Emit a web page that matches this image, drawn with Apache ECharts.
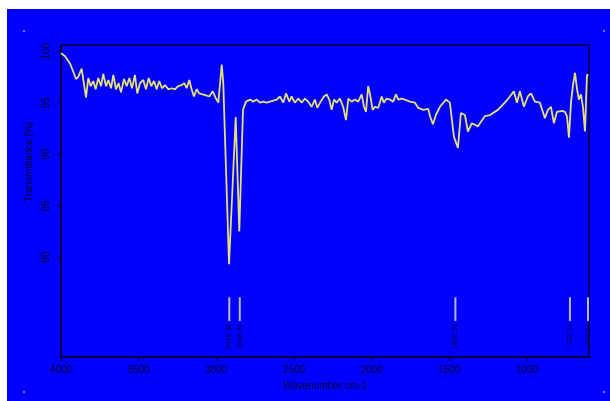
<!DOCTYPE html>
<html>
<head>
<meta charset="utf-8">
<script src="https://cdn.jsdelivr.net/npm/echarts@6/dist/echarts.min.js"></script>
<style>
html,body{margin:0;padding:0;background:#ffffff;width:610px;height:401px;overflow:hidden;}
#chart{position:absolute;left:7px;top:9px;width:603px;height:392px;}
</style>
</head>
<body>
<div id="chart"></div>
<script>
// Wavenumbers (cm-1) and transmittance (%)
const wavenumbers = [4000,3974,3942,3921,3903,3889,3867,3856,3839,3824,3809,3792,3777,3760,3742,3728,3710,3695,3678,3663,3646,3629,3614,3594,3577,3560,3543,3524,3509,3491,3470,3453,3435,3419,3401,3384,3367,3350,3330,3309,3287,3266,3245,3223,3206,3191,3174,3159,3144,3126,3110,3088,3066,3045,3023,3002,2987,2965,2955,2918,2875,2852,2828,2809,2783,
2762,2740,2719,2698,2676,2654,2633,2611,2590,2569,2551,2530,2515,2494,2472,2450,2429,2408,2386,2365,2350,2328,2307,2289,2273,2257,2242,2225,2204,2183,2165,2150,2128,2107,2086,2064,2049,2036,2022,2011,1993,1978,1957,1935,1921,1903,1882,1861,1843,1828,1807,1785,1753,1721,1700,1667,1635,1624,1605,1586,1560,1521,1496,1470,1444,1425,1399,1380,1354,1315,1270,1238,1187,1142,1109,1084,1064,1045,1019,994,974,948,916,884,865,845,826,807,774,755,742,729,716,703,690,677,665,652,639,626,613,604];
const transmittance = [99.8,99.5,98.8,98.0,97.3,97.5,98.3,97.2,95.5,97.4,96.6,97.1,96.3,97.4,96.6,97.8,96.6,97.2,96.4,97.7,96.3,96.9,96.0,97.3,96.6,97.4,96.4,97.7,95.9,96.9,97.2,96.3,97.4,96.6,97.1,96.3,97.1,96.4,96.7,96.3,96.4,96.3,96.6,96.7,96.9,96.4,97.2,96.3,95.6,96.3,95.9,95.8,95.7,95.6,96.1,95.4,95.0,98.7,96.9,79.3,93.6,82.5,94.3,95.1,95.3,
95.1,95.3,95.0,95.1,95.0,95.1,95.2,95.3,95.6,95.0,95.9,95.1,95.6,95.0,95.4,95.0,95.4,95.1,94.6,95.3,94.5,95.1,95.6,95.8,95.3,94.3,95.3,95.0,95.4,94.6,93.3,95.4,95.1,95.3,95.1,95.8,94.6,94.1,96.6,95.9,94.3,94.6,94.5,95.6,95.0,95.4,95.3,95.1,95.8,95.3,95.4,95.3,95.1,95.0,94.5,94.3,94.4,93.7,92.9,93.8,94.6,95.3,95.0,91.7,90.6,94.0,93.8,92.2,93.0,92.7,93.7,93.8,94.3,95.0,95.6,96.1,95.0,96.1,94.6,95.6,95.9,95.1,95.0,93.5,94.3,94.6,93.0,94.1,94.2,94.1,93.7,91.6,95.0,96.7,97.9,96.3,95.3,95.8,94.6,92.2,97.7,97.7];

// Peak annotations
const peakPositions = [2916.38, 2848.94, 1460.29, 722.74, 606.57];
const peakLabels = ['2916.38', '2848.94', '1460.29', '722.74', '606.57'];

// Axis ticks
const xTicks = [4000, 3500, 3000, 2500, 2000, 1500, 1000];
const yTicks = [80, 85, 90, 95, 100];

const chart = echarts.init(document.getElementById('chart'), null, {renderer: 'canvas'});
const textColor = '#000028';
const frameColor = '#000030';

const spectrum = wavenumbers.map((w, i) => [w, transmittance[i]]);
const peaks = peakPositions.map((p, i) => [p, peakLabels[i]]);

chart.setOption({
  backgroundColor: '#0000fe',
  animation: false,
  grid: {left: 54, top: 36, right: 21, bottom: 44, show: true, borderColor: frameColor, borderWidth: 1.5, backgroundColor: 'transparent'},
  xAxis: {
    type: 'value', min: 600, max: 4000, inverse: true,
    name: 'Wavenumber cm-1', nameLocation: 'middle', nameGap: 24,
    nameTextStyle: {color: textColor, fontSize: 10, fontFamily: 'Liberation Sans'},
    axisLine: {show: true, lineStyle: {color: frameColor, width: 1.5}},
    axisTick: {show: true, length: 4, customValues: xTicks, lineStyle: {color: frameColor}},
    axisLabel: {customValues: xTicks, formatter: v => String(v), color: textColor, fontSize: 10, fontFamily: 'Liberation Sans', margin: 8},
    splitLine: {show: false}
  },
  yAxis: {
    type: 'value', min: 70.3, max: 100.6,
    axisLine: {show: true, lineStyle: {color: frameColor, width: 1.5}},
    axisTick: {show: true, length: 4, customValues: yTicks, lineStyle: {color: frameColor}},
    axisLabel: {customValues: yTicks, formatter: v => String(v), color: textColor, fontSize: 10, fontFamily: 'Liberation Sans', rotate: 90, margin: 10},
    splitLine: {show: false}
  },
  graphic: [
    {type: 'text', x: 22, y: 153, rotation: Math.PI / 2,
     style: {text: 'Transmittance [%]', fill: textColor, font: '10px "Liberation Sans"', align: 'center', verticalAlign: 'middle'}},
    {type: 'rect', shape: {x: 16, y: 21, width: 2, height: 2}, style: {fill: '#7a7aff'}},
    {type: 'rect', shape: {x: 596, y: 21, width: 2, height: 2}, style: {fill: '#7a7aff'}},
    {type: 'rect', shape: {x: 16, y: 382, width: 2, height: 2}, style: {fill: '#7a7aff'}},
    {type: 'rect', shape: {x: 596, y: 382, width: 2, height: 2}, style: {fill: '#7a7aff'}}
  ],
  series: [
    {
      type: 'line', data: spectrum, showSymbol: false, smooth: false,
      lineStyle: {color: '#e6e070', width: 1.8}, z: 3
    },
    {
      type: 'custom', data: peaks, z: 4,
      renderItem: function (params, api) {
        const top = api.coord([api.value(0), 76.1]);
        const bot = api.coord([api.value(0), 73.8]);
        return {
          type: 'group',
          children: [
            {type: 'line', shape: {x1: top[0], y1: top[1], x2: bot[0], y2: bot[1]},
             style: {stroke: '#b8b8c8', lineWidth: 2}},
            {type: 'text', x: bot[0], y: bot[1] + 3, rotation: Math.PI / 2,
             style: {text: peakLabels[params.dataIndex], fill: textColor, font: '7px "Liberation Sans"', align: 'right', verticalAlign: 'middle'}}
          ]
        };
      }
    }
  ]
});
</script>
</body>
</html>
